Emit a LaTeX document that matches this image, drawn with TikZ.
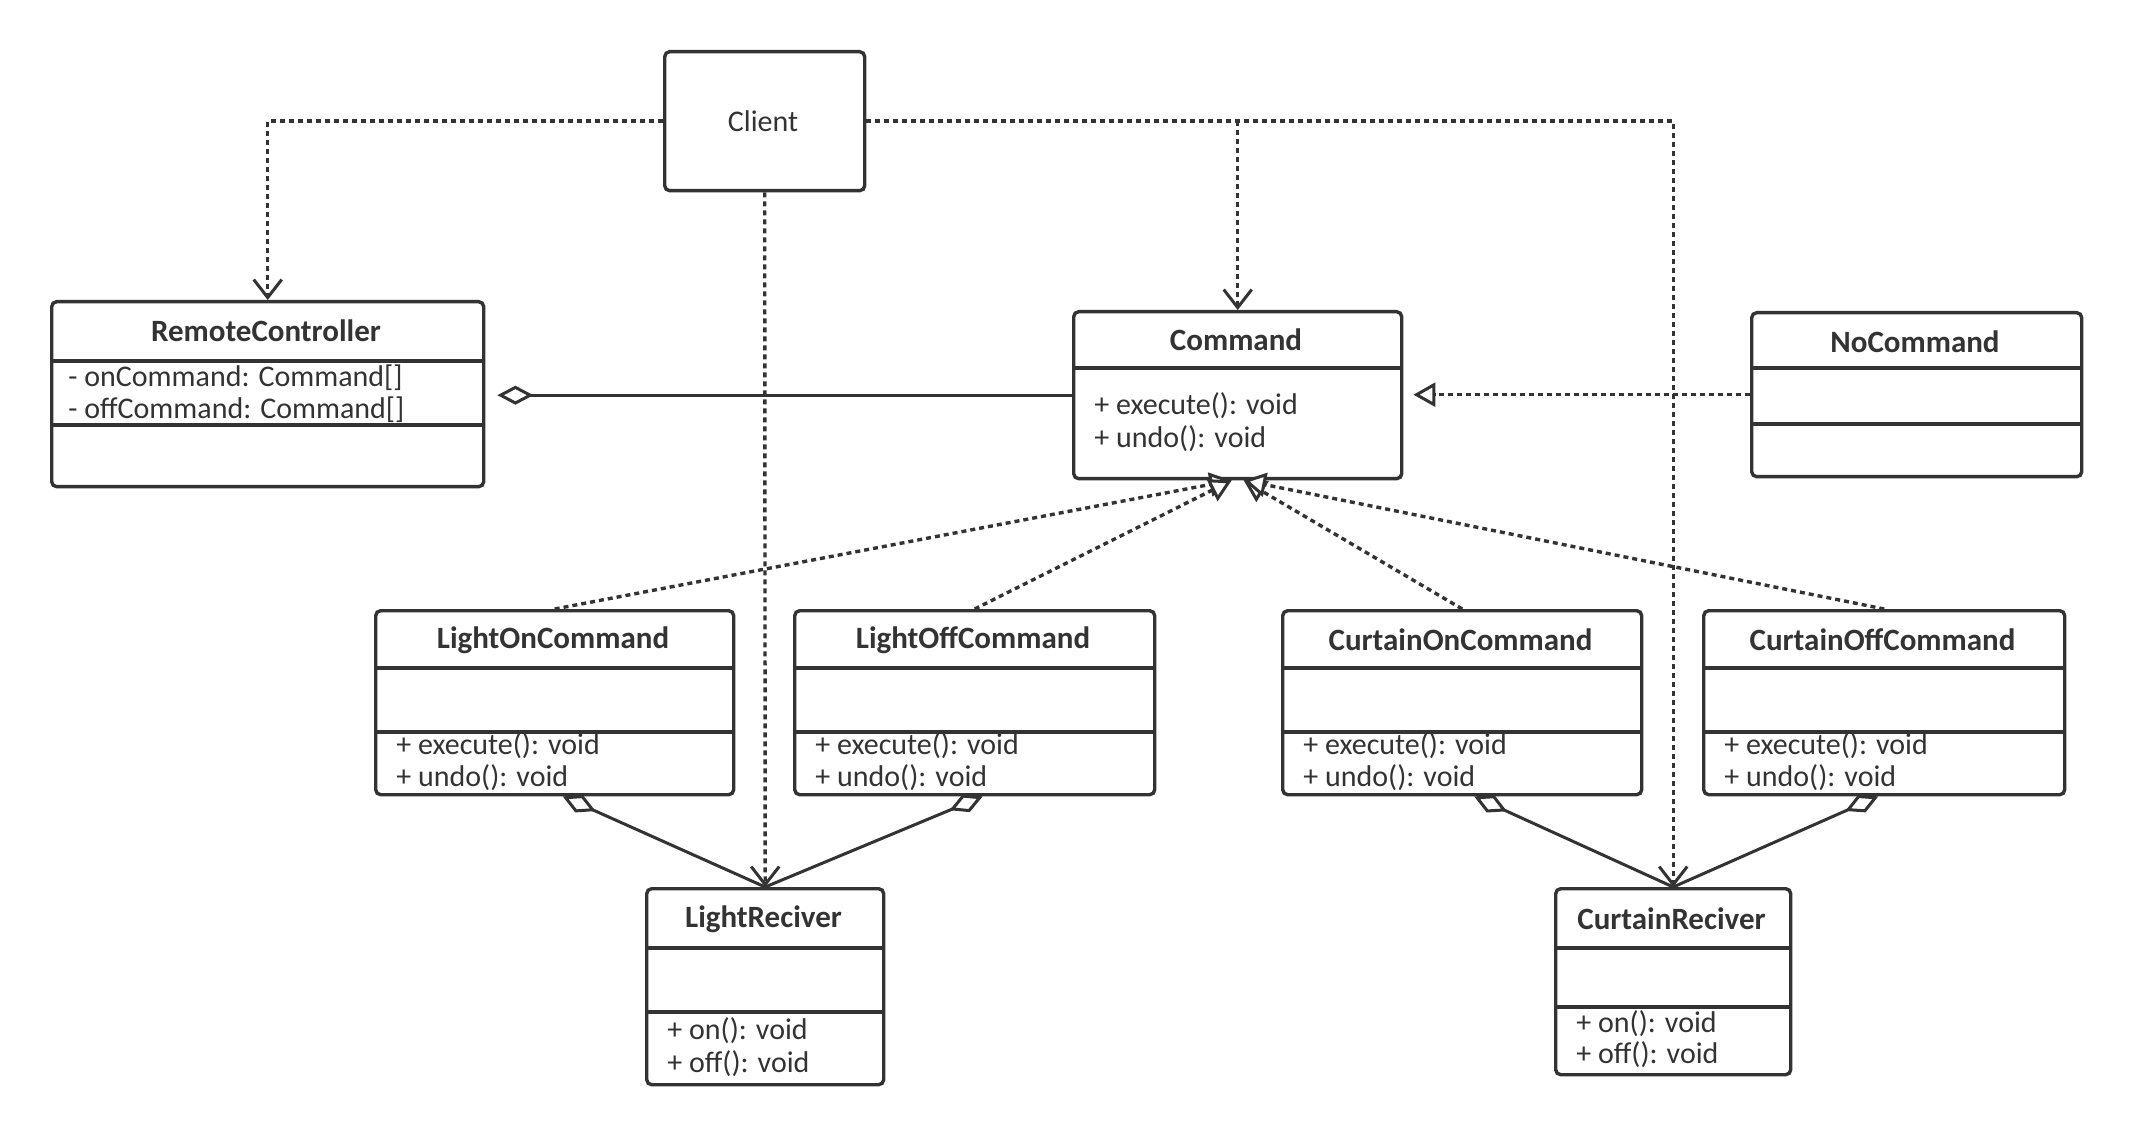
\documentclass[tikz,border=0pt]{standalone}
\usepackage{fontspec}
\setmainfont{Carlito}
\usetikzlibrary{arrows.meta,calc}
\definecolor{ink}{HTML}{333333}
\begin{document}
\begin{tikzpicture}[x=0.5pt,y=-0.5pt,
  box/.style={draw=ink, line width=1.7pt, rounded corners=2.5pt, fill=white, inner sep=0pt, anchor=north west},
  ttl/.style={text=ink, font=\fontsize{15.5}{18}\selectfont\bfseries, inner sep=0pt},
  mem/.style={text=ink, font=\fontsize{15}{17}\selectfont, inner sep=0pt, anchor=west},
  sep/.style={draw=ink, line width=1.7pt},
  dep/.style={draw=ink, line width=1.7pt, dash pattern=on 2.5pt off 2pt, -{Straight Barb[length=9pt,width=14pt,line width=1.5pt]}},
  real/.style={draw=ink, line width=1.7pt, dash pattern=on 2.5pt off 2pt, -{Triangle[open,length=11pt,width=12pt,fill=white,line width=1.5pt]}},
  agg/.style={draw=ink, line width=1.5pt, {Diamond[open,length=18pt,width=9.5pt,fill=white]}-},
]
\useasboundingbox[fill=white] (0,0) rectangle (2130,1133);

% Client
\node[box, minimum width=100pt, minimum height=69.5pt] (client) at (663,50) {};
\node[text=ink, font=\fontsize{15}{17}\selectfont, inner sep=0pt] (clientlbl) at (763,121) {Client};

% RemoteController
\node[box, minimum width=216pt, minimum height=92.5pt] (rc) at (50,300) {};
\draw[sep] (rc.west |- 0,361) -- (rc.east |- 0,361);
\draw[sep] (rc.west |- 0,425) -- (rc.east |- 0,425);
\node[ttl] (rct) at (266,331) {RemoteController};
\node[mem] (rca1) at (68,378) {- onCommand: Command[]};
\node[mem] (rca2) at (68,410) {- offCommand: Command[]};

% Command
\node[box, minimum width=164pt, minimum height=83.5pt] (cmd) at (1072,310) {};
\draw[sep] (cmd.west |- 0,368) -- (cmd.east |- 0,368);
\node[ttl] (cmdt) at (1236,340) {Command};
\node[mem] (cmdm1) at (1094,406) {+ execute(): void};
\node[mem] (cmdm2) at (1094,439) {+ undo(): void};

% NoCommand
\node[box, minimum width=165pt, minimum height=82pt] (nocmd) at (1750,311) {};
\draw[sep] (nocmd.west |- 0,368) -- (nocmd.east |- 0,368);
\draw[sep] (nocmd.west |- 0,424) -- (nocmd.east |- 0,424);
\node[ttl] (nocmdt) at (1915,342) {NoCommand};

% Concrete commands
\node[box, minimum width=179pt, minimum height=92pt] (lon) at (374,609) {};
\node[box, minimum width=180pt, minimum height=92pt] (loff) at (793,609) {};
\node[box, minimum width=179.5pt, minimum height=92pt] (con) at (1281,609) {};
\node[box, minimum width=180.5pt, minimum height=92pt] (coff) at (1702,609) {};
\foreach \b in {lon,loff,con,coff}{
  \draw[sep] (\b.west |- 0,668) -- (\b.east |- 0,668);
  \draw[sep] (\b.west |- 0,732) -- (\b.east |- 0,732);
}
\node[ttl] (lont) at (553,640) {LightOnCommand};
\node[ttl] (lofft) at (973,640) {LightOffCommand};
\node[ttl] (cont) at (1460.5,640) {CurtainOnCommand};
\node[ttl] (cofft) at (1882.5,640) {CurtainOffCommand};
\node[mem] (lonm1) at (396,746) {+ execute(): void};
\node[mem] (lonm2) at (396,778) {+ undo(): void};
\node[mem] (loffm1) at (815,746) {+ execute(): void};
\node[mem] (loffm2) at (815,778) {+ undo(): void};
\node[mem] (conm1) at (1303,746) {+ execute(): void};
\node[mem] (conm2) at (1303,778) {+ undo(): void};
\node[mem] (coffm1) at (1724,746) {+ execute(): void};
\node[mem] (coffm2) at (1724,778) {+ undo(): void};

% Receivers
\node[box, minimum width=118.5pt, minimum height=98pt] (lr) at (645,887) {};
\draw[sep] (lr.west |- 0,948) -- (lr.east |- 0,948);
\draw[sep] (lr.west |- 0,1012) -- (lr.east |- 0,1012);
\node[ttl] (lrt) at (763.5,919) {LightReciver};
\node[mem] (lrm1) at (667,1031) {+ on(): void};
\node[mem] (lrm2) at (667,1064) {+ off(): void};

\node[box, minimum width=117.5pt, minimum height=93pt] (cr) at (1554,887) {};
\draw[sep] (cr.west |- 0,948) -- (cr.east |- 0,948);
\draw[sep] (cr.west |- 0,1007) -- (cr.east |- 0,1007);
\node[ttl] (crt) at (1671.5,919) {CurtainReciver};
\node[mem] (crm1) at (1576,1024) {+ on(): void};
\node[mem] (crm2) at (1576,1055) {+ off(): void};

% Dependencies from Client
\coordinate (jc) at (client.east -| cmd.north);
\draw[dep] (client.west) -| (rc.north);
\draw[dep] (client.east) -| (cr.north);
\draw[dep] (jc) -- (cmd.north);
\draw[dep] (client.south) -- (lr.north);

% Aggregation RemoteController - Command
\draw[agg, shorten <=6pt] (rc.east |- cmd.west) -- (cmd.west);

% Realizations
\draw[real, shorten >=5pt] (nocmd.west) -- (nocmd.west -| cmd.east);
\coordinate (tL) at ([xshift=-3pt]cmd.south);
\coordinate (tR) at ([xshift=3pt]cmd.south);
\draw[real] (lon.north) -- (tL);
\draw[real] (loff.north) -- (tL);
\draw[real] (con.north) -- (tR);
\draw[real] (coff.north) -- (tR);

% Aggregations to receivers
\draw[agg] ([xshift=4pt]lon.south) -- (lr.north);
\draw[agg] ([xshift=4pt]loff.south) -- (lr.north);
\draw[agg] ([xshift=6pt]con.south) -- (cr.north);
\draw[agg] ([xshift=-3pt]coff.south) -- (cr.north);
\end{tikzpicture}
\end{document}
